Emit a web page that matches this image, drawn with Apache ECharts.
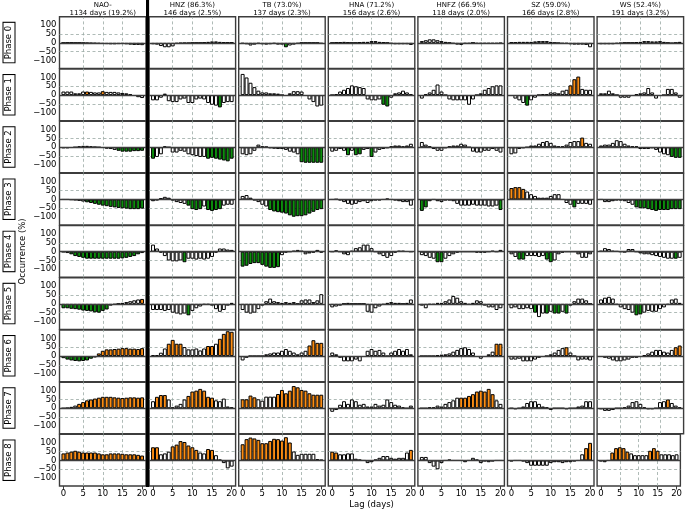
<!DOCTYPE html>
<html>
<head>
<meta charset="utf-8">
<title>Phase composites</title>
<script src="https://cdn.jsdelivr.net/npm/echarts@6/dist/echarts.min.js"></script>
<style>
  html, body { margin: 0; padding: 0; background: #fff; }
  #chart { width: 685px; height: 511px; }
</style>
</head>
<body>
<div id="chart"></div>
<script>
// lag axis and labels
const lags = [0,1,2,3,4,5,6,7,8,9,10,11,12,13,14,15,16,17,18,19,20];
const lagTicks = [0, 5, 10, 15, 20];
const yTicks = [-100, -50, 0, 50, 100];
const phaseNames = ['Phase 0','Phase 1','Phase 2','Phase 3','Phase 4','Phase 5','Phase 6','Phase 7','Phase 8'];
const colNames = ['NAO-', 'HNZ (86.3%)', 'TB (73.0%)', 'HNA (71.2%)', 'HNFZ (66.9%)', 'SZ (59.0%)', 'WS (52.4%)'];
const colDays = ['1134 days (19.2%)', '146 days (2.5%)', '137 days (2.3%)', '156 days (2.6%)', '118 days (2.0%)', '166 days (2.8%)', '191 days (3.2%)'];

// occurrence (%) per phase (rows) and lag; colour codes: w = n.s., g = low, o = high
const naoVals = [
  [0,1,1,0,0,-1,-2,-3,-4,-5,-6,-7,-8,-8,-7,-6,-8,-10,-12,-12,-13],
  [20,20,20,10,10,20,20,18,15,15,22,18,18,18,15,12,10,4,-5,-12,-17],
  [-5,-5,-3,0,5,8,8,5,2,0,-3,-8,-10,-15,-20,-25,-25,-25,-22,-22,-20],
  [0,0,-2,-4,-8,-12,-16,-20,-25,-30,-35,-38,-42,-45,-48,-50,-52,-55,-55,-55,-52],
  [-2,-8,-15,-25,-30,-35,-40,-40,-40,-40,-40,-40,-40,-40,-40,-38,-35,-30,-25,-15,-8],
  [-25,-25,-28,-30,-33,-38,-40,-43,-48,-50,-40,-32,-10,-5,0,5,10,15,20,25,28],
  [-12,-20,-25,-28,-30,-28,-25,-15,-8,15,30,38,38,40,42,45,45,42,42,40,45],
  [0,2,8,15,25,35,45,50,55,60,65,65,65,62,60,58,60,62,62,60,62],
  [40,45,50,55,50,45,45,45,45,40,35,35,40,40,40,38,35,35,35,32,28]
];
const naoCols = [
  'wwwwwwwwwwwwggwwwggww', 'wwwwwwowwwowwwwwwwwww', 'wwwwwwwwwwwwwwggggggg',
  'wwwwwwggggggggggggggg', 'wwggggggggggggggggggw', 'ggggggggggggwwwwwwwwo',
  'ggggggggwoooooooooooo', 'wwwwooooooooooooooooo', 'ooooooooooooooooooooo'
];

const hnzVals = [
  [-8,-10,-18,-25,-25,-20,-5,-3,-2,-2,0,0,0,2,5,8,8,5,3,2,2],
  [-30,-30,-15,8,-35,-40,-40,-25,-20,-45,-45,-25,-20,-25,-45,-55,-60,-70,-45,-40,-40],
  [-65,-55,-40,5,0,-30,-30,-20,-25,-40,-45,-50,-55,-55,-65,-60,-65,-70,-75,-80,-65],
  [-10,-5,8,15,10,-5,-15,-20,-25,-35,-55,-60,-55,-40,-60,-65,-60,-55,-35,-30,-30],
  [40,18,-5,-25,-50,-55,-55,-50,-60,-40,-40,-45,-40,-45,-40,-30,-5,18,18,12,10],
  [-35,-35,-35,-40,-35,-50,-55,-60,-55,-65,-40,-25,-15,-5,-5,-10,-30,-45,-35,-10,5],
  [6,6,19,43,70,92,70,70,51,38,38,43,32,43,57,57,70,98,126,141,138],
  [40,65,75,75,50,5,15,25,50,70,95,100,110,100,65,60,45,40,55,10,5],
  [75,75,35,40,50,80,90,110,105,85,75,60,45,40,65,60,30,5,-15,-45,-35]
];
const hnzCols = [
  'wwwwwwwwwwwwwwwwwwwww', 'wwwwwwwwwwwwwwwwwgwww', 'gwwwwwwwwwwwwwggggggg',
  'wwwwwwwwwggggwggggwww', 'wwwwwwwwgwwwwwwwwwwww', 'wwwwwwwwwgwwwwwwwwwww',
  'wwwwoooowwwwwwoowoooo', 'wooowwwwwooooooowwwww', 'oowwwooooooowwoowwwww'
];

const tbVals = [
  [-5,-8,-15,-10,-5,-8,-10,-8,-5,-10,-10,-25,-15,-10,-5,0,0,0,0,0,-5],
  [120,100,70,45,25,15,15,10,10,8,0,-5,10,22,22,20,-5,-25,-40,-65,-60],
  [-40,-45,-40,-20,15,5,3,-5,-8,-10,-10,-15,-25,-30,-40,-85,-88,-88,-88,-88,-88],
  [20,25,10,-5,-15,-30,-40,-60,-68,-72,-75,-80,-90,-98,-95,-95,-90,-80,-70,-60,-55],
  [-85,-80,-70,-65,-65,-75,-85,-92,-92,-88,-20,-5,0,5,10,5,-15,-10,-5,10,-5],
  [-35,-50,-55,-50,-30,-10,15,30,15,10,5,10,5,10,0,20,25,25,10,20,55],
  [-25,-10,0,0,0,0,10,15,20,20,30,40,30,20,10,20,30,60,90,75,75],
  [51,51,72,62,51,43,66,66,66,81,104,85,100,126,119,104,100,85,77,77,77],
  [92,121,130,125,117,98,98,111,123,121,113,132,102,51,32,38,38,38,38,8,4]
];
const tbCols = [
  'wwwwwwwwwwwgwwwwwwwww', 'wwwwwwwwwwwwwwwwwwwww', 'wwwwwwwwwwwwwwwgggggg',
  'wwwwwwwgggggggggggggg', 'ggggggggggwwwwwwwwwww', 'wwwwwwwwwwwwwwwwwwwww',
  'wwwwwwwwwwwwwwwwwoooo', 'oooowwwwwoooooooooooo', 'ooooooooooooowwwwwwww'
];

const hnaVals = [
  [0,2,3,5,2,0,0,3,5,5,10,10,5,3,0,-5,-8,-8,-8,-8,-12],
  [0,5,20,30,40,55,50,45,40,-25,-30,-30,-25,-55,-65,-15,10,15,25,15,5],
  [-25,-20,-10,-20,-45,-20,-45,-40,-15,-10,-55,-30,-15,-10,-5,5,10,10,5,10,20],
  [0,2,-5,-15,-25,-30,-25,-15,-10,-20,-10,-5,-5,0,5,0,-5,-10,-15,-15,-35],
  [0,8,0,-15,-20,5,20,25,40,40,20,0,-15,-25,-35,-25,-5,5,5,2,0],
  [-20,-15,-10,0,5,0,0,0,0,-45,-50,-25,-15,-5,5,10,5,5,0,5,25],
  [20,10,-10,-30,-30,-30,-20,-30,-5,30,40,30,35,20,0,20,30,40,30,40,10],
  [-20,-10,20,40,25,50,40,20,25,10,10,25,15,20,50,35,20,15,5,0,15],
  [50,45,35,35,40,40,10,5,0,-15,-10,5,15,25,25,15,10,15,15,45,60]
];
const hnaCols = [
  'wwwwwwwwwwwwwwwwwwwww', 'wwwwwwwwwwwwwggwwwwww', 'wwwwgwggwwgwwwwwwwwww',
  'wwwwwwwwwwwwwwwwwwwww', 'wwwwwwwwwwwwwwwwwwwww', 'wwwwwwwwwwwwwwwwwwwww',
  'wwwwwwwwwwwwwwwwwwwww', 'wwwwwwwwwwwwwwwwwwwww', 'oowwwwwwwwwwwwwwwwwwo'
];

const hnfzVals = [
  [10,15,20,20,15,10,5,0,-5,-10,-12,-5,-5,0,-5,-5,-5,-5,-5,-5,-3],
  [-20,5,15,30,60,20,0,-25,-30,-30,-30,-30,-55,-25,0,10,30,40,50,55,55],
  [30,15,5,-10,-20,-20,-5,5,10,10,20,15,0,-25,-30,-30,-20,-20,-10,-20,-30],
  [-65,-45,-10,0,-10,-15,-5,-5,-10,-25,-35,-35,-35,-30,-35,-35,-35,-40,-40,-35,-60],
  [-20,-25,-35,-40,-60,-60,-40,-25,-15,-5,0,0,0,0,-5,-5,-5,0,5,0,10],
  [-10,-25,-5,-5,5,5,15,25,45,35,15,5,-5,5,20,15,-10,-20,-20,-35,-25],
  [0,0,0,0,5,8,10,15,25,35,45,50,40,20,-5,-15,-5,10,25,70,70],
  [0,0,5,5,15,10,25,35,45,60,60,60,70,80,95,100,95,110,80,45,25],
  [20,20,-15,-35,-50,-15,0,5,0,0,0,-10,0,15,5,-15,-5,-10,-5,0,0]
];
const hnfzCols = [
  'wwwwwwwwwwwwwwwwwwwww', 'wwwwwwwwwwwwwwwwwwwww', 'wwwwwwwwwwwwwwwwwwwww',
  'ggwwwwwwwwwwwwwwwwwwg', 'wwwwggwwwwwwwwwwwwwww', 'wwwwwwwwwwwwwwwwwwwww',
  'wwwwwwwwwwwwwwwwwwwoo', 'wwwwwwwwwwoooooooooww', 'wwwwwwwwwwwwwwwwwwwww'
];

const szVals = [
  [3,3,5,5,5,5,8,10,10,10,5,0,-2,-5,-5,-8,-10,-10,-10,-12,-25],
  [-5,-20,-30,-45,-60,-30,-15,0,5,5,15,15,10,25,30,55,90,105,35,30,30],
  [-40,-35,-10,-5,0,10,10,20,30,35,25,10,5,5,15,30,35,35,55,25,20],
  [65,70,70,60,45,30,20,10,10,10,20,30,30,0,-20,-30,-45,-25,-25,-25,-30],
  [-15,-30,-45,-45,-25,-25,-25,-30,-25,-45,-60,-50,-15,-5,0,0,0,-15,-35,-35,-15],
  [-25,-20,-30,-30,-25,-30,-50,-75,-55,-55,-45,-55,-55,-45,-55,-10,15,30,30,20,0],
  [-20,-20,-15,-30,-30,-30,-20,-10,-5,0,10,20,35,45,50,20,0,-25,-20,-20,-25],
  [0,-5,0,10,30,40,40,25,10,5,-10,0,0,0,-5,0,0,10,15,40,40],
  [-5,0,0,-5,-15,-30,-30,-30,-30,-30,-15,-10,-10,-15,-10,-10,-5,0,35,70,100]
];
const szCols = [
  'wwwwwwwwwwwwwwwwwwwww', 'wwwwgwwwwwwwwwwooowww', 'wwwwwwwwwwwwwwwwwwoww',
  'oooowwwwwwwwwwwwgwwww', 'wwggwwwwwggwwwwwwwwww', 'wwwwwwgwwgwggwgwwwwww',
  'wwwwwwwwwwwwwwowwwwww', 'wwwwwwwwwwwwwwwwwwwww', 'wwwwwwwwwwwwwwwwwwwoo'
];

const wsVals = [
  [-8,-8,-8,-8,-5,-3,0,0,0,3,5,10,10,8,8,10,5,0,-3,0,5],
  [10,10,25,10,0,-15,-15,-15,-5,5,10,15,40,15,-20,-5,0,35,35,15,-15],
  [10,15,15,25,40,35,20,10,5,5,-10,-10,-10,-5,-15,-30,-40,-45,-55,-60,-60],
  [0,-15,-15,-10,-5,-5,-10,-20,-30,-45,-50,-50,-55,-60,-65,-60,-60,-60,-55,-55,-55],
  [5,20,15,5,3,0,-3,15,15,0,-10,-15,-15,-20,-25,-30,-35,-40,-40,-40,-35],
  [25,35,40,30,-5,-20,-30,-35,-50,-65,-60,-50,-40,-45,-45,-30,-20,-5,25,30,5],
  [-5,-10,-15,-25,-30,-30,-25,-20,-10,-10,-5,5,15,25,35,35,25,20,35,50,60],
  [-5,-15,-15,-10,0,0,5,15,35,40,25,5,-5,-5,0,35,40,50,30,15,5],
  [-5,-10,0,45,70,75,70,50,40,30,30,30,30,55,70,55,35,35,35,30,35]
];
const wsCols = [
  'wwwwwwwwwwwwwwwwwwwww', 'wwwwwwwwwwwwwwwwwwwww', 'wwwwwwwwwwwwwwwwwwggg',
  'wwwwwwwwwgggggggggggg', 'wwwwwwwwwwwwwwwwwwwgw', 'wwwwwwwwwggwwwwwwwwww',
  'wwwwwwwwwwwwwwwwwwwoo', 'wwwwwwwwwwwwwwwwwowww', 'wwwooooowwwwwooowwwww'
];

const panelVals = [naoVals, hnzVals, tbVals, hnaVals, hnfzVals, szVals, wsVals];
const panelCols = [naoCols, hnzCols, tbCols, hnaCols, hnfzCols, szCols, wsCols];

const fill = { w: '#ffffff', g: '#0c8f0c', o: '#fb8c12' };
const font = 'DejaVu Sans';

// layout
const LEFT = 59.5, COL_STEP = 89.6, PW = 86.5;
const TOP = 16.8, ROW_STEP = 52.2, PH = 51.6;
const GRIDC = '#9aa9a4';
const FRAME = '#3c3c3c';

const grids = [], xAxes = [], yAxes = [], series = [], graphics = [];
const fmt = v => (v < 0 ? '\u2212' + (-v) : String(v));

for (let r = 0; r < 9; r++) {
  for (let c = 0; c < 7; c++) {
    const i = grids.length;
    grids.push({
      left: LEFT + c * COL_STEP, top: TOP + r * ROW_STEP, width: PW, height: PH,
      show: true, borderColor: FRAME, borderWidth: 1.4, backgroundColor: 'transparent'
    });
    xAxes.push({
      gridIndex: i, type: 'value', min: -1, max: 21,
      axisLine: { show: false, onZero: false },
      axisTick: r === 8
        ? { show: true, customValues: lagTicks, length: 3.5, lineStyle: { color: FRAME, width: 1 } }
        : { show: false },
      splitLine: { show: false },
      axisLabel: r === 8
        ? { customValues: lagTicks, fontSize: 8.5, fontFamily: font, color: '#000', margin: 3 }
        : { show: false }
    });
    yAxes.push({
      gridIndex: i, type: 'value', min: -145, max: 148,
      axisLine: { show: false, onZero: false }, axisTick: { show: false }, splitLine: { show: false },
      axisLabel: c === 0
        ? { customValues: yTicks, formatter: fmt, fontSize: 8.5, fontFamily: font, color: '#000', margin: 3 }
        : { show: false }
    });
    // dashed reference lines, kept underneath the bars
    series.push({
      type: 'line', xAxisIndex: i, yAxisIndex: i, data: [], silent: true, z: 1,
      markLine: {
        silent: true, symbol: ['none', 'none'], animation: false, label: { show: false }, z: 1,
        lineStyle: { color: GRIDC, type: [3, 2.5], width: 0.8 },
        data: [{ yAxis: 50 }, { yAxis: -50 }, { xAxis: 5 }, { xAxis: 10 }, { xAxis: 15 }]
      }
    });
    const vals = panelVals[c][r], codes = panelCols[c][r];
    series.push({
      type: 'bar', xAxisIndex: i, yAxisIndex: i, barWidth: '100%',
      silent: true, animation: false, z: 2,
      itemStyle: { borderColor: '#000', borderWidth: 1 },
      data: vals.map((v, k) => ({ value: [lags[k], v], itemStyle: { color: fill[codes[k] || 'w'] } })),
      markLine: {
        silent: true, symbol: ['none', 'none'], animation: false, label: { show: false }, z: 5,
        lineStyle: { color: FRAME, type: 'solid', width: 1.4 },
        data: [{ yAxis: 0 }]
      }
    });
  }
  graphics.push({
    type: 'text', x: 9, y: TOP + r * ROW_STEP + PH / 2, rotation: Math.PI / 2,
    style: {
      text: phaseNames[r], fontSize: 8.5, fontFamily: font, fill: '#000',
      align: 'center', verticalAlign: 'middle',
      borderColor: '#000', borderWidth: 1, backgroundColor: '#fff', padding: [1, 3]
    }
  });
}

for (let c = 0; c < 7; c++) {
  const cx = LEFT + c * COL_STEP + PW / 2;
  graphics.push({ type: 'text', x: cx, y: 5, style: { text: colNames[c], fontSize: 7, fontFamily: font, fill: '#000', align: 'center', verticalAlign: 'middle' } });
  graphics.push({ type: 'text', x: cx, y: 13, style: { text: colDays[c], fontSize: 7, fontFamily: font, fill: '#000', align: 'center', verticalAlign: 'middle' } });
}

// separator between NAO- and the regimes
graphics.push({ type: 'rect', shape: { x: LEFT + PW, y: 0, width: COL_STEP - PW, height: TOP + 8 * ROW_STEP + PH + 1 }, style: { fill: '#000' } });
graphics.push({ type: 'text', x: 23, y: TOP + (8 * ROW_STEP + PH) / 2, rotation: Math.PI / 2, style: { text: 'Occurrence (%)', fontSize: 8.5, fontFamily: font, fill: '#000', align: 'center', verticalAlign: 'middle' } });
graphics.push({ type: 'text', x: LEFT + (6 * COL_STEP + PW) / 2, y: 505, style: { text: 'Lag (days)', fontSize: 8.5, fontFamily: font, fill: '#000', align: 'center', verticalAlign: 'middle' } });

const chart = echarts.init(document.getElementById('chart'), null, { renderer: 'canvas' });
chart.setOption({
  animation: false,
  backgroundColor: '#fff',
  grid: grids, xAxis: xAxes, yAxis: yAxes, series: series,
  graphic: graphics
});
</script>
</body>
</html>
